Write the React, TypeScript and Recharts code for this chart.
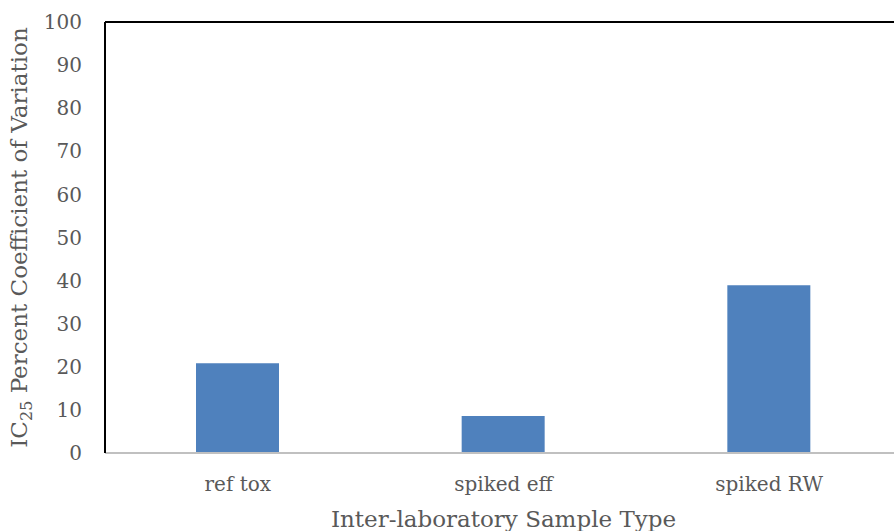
import { BarChart, Bar, XAxis, YAxis, ReferenceLine } from "recharts";

const categories = ["ref tox", "spiked eff", "spiked RW"];
const cvValues = [20.8, 8.6, 38.9];
const yTicks = [0, 10, 20, 30, 40, 50, 60, 70, 80, 90, 100];

const data = categories.map((name, i) => ({ name, cv: cvValues[i] }));

const FONT = "'DejaVu Serif', 'Liberation Serif', serif";
const TEXT = "#595959";

function YTitle(props: { viewBox?: { x: number; y: number; width: number; height: number } }) {
  const vb = props.viewBox;
  if (!vb) return null;
  const cx = 27;
  const cy = vb.y + vb.height / 2;
  return (
    <text
      x={cx}
      y={cy}
      transform={`rotate(-90, ${cx}, ${cy})`}
      textAnchor="middle"
      fill={TEXT}
      fontSize={23}
      fontFamily={FONT}
    >
      IC
      <tspan fontSize={16} dy={5}>25</tspan>
      <tspan dy={-5}> Percent Coefficient of Variation</tspan>
    </text>
  );
}

function XTitle(props: { viewBox?: { x: number; y: number; width: number; height: number } }) {
  const vb = props.viewBox;
  if (!vb) return null;
  return (
    <text
      x={vb.x + vb.width / 2}
      y={527}
      textAnchor="middle"
      fill={TEXT}
      fontSize={23}
      fontFamily={FONT}
    >
      Inter-laboratory Sample Type
    </text>
  );
}

export default function App() {
  return (
    <div
      style={{
        position: "absolute",
        left: 0,
        top: 0,
        width: 894,
        height: 531,
        overflow: "hidden",
        background: "#fff",
      }}
    >
      <BarChart
        width={902}
        height={545}
        data={data}
        margin={{ top: 22, right: 0, bottom: 0, left: 0 }}
      >
        <XAxis
          dataKey="name"
          height={92}
          axisLine={{ stroke: "#c0c0c0", strokeWidth: 2 }}
          tickLine={false}
          tickSize={20}
          tickMargin={4}
          tick={{ fill: TEXT, fontSize: 20, fontFamily: FONT }}
          label={<XTitle />}
        />
        <YAxis
          width={105}
          domain={[0, 100]}
          ticks={yTicks}
          interval={0}
          axisLine={{ stroke: "#000", strokeWidth: 2 }}
          tickLine={false}
          tickSize={20}
          tickMargin={3}
          tick={{ fill: TEXT, fontSize: 20, fontFamily: FONT }}
          label={<YTitle />}
        />
        <ReferenceLine y={100} stroke="#000" strokeWidth={2} />
        <Bar dataKey="cv" fill="#4F81BD" barSize={83} isAnimationActive={false} />
      </BarChart>
    </div>
  );
}
